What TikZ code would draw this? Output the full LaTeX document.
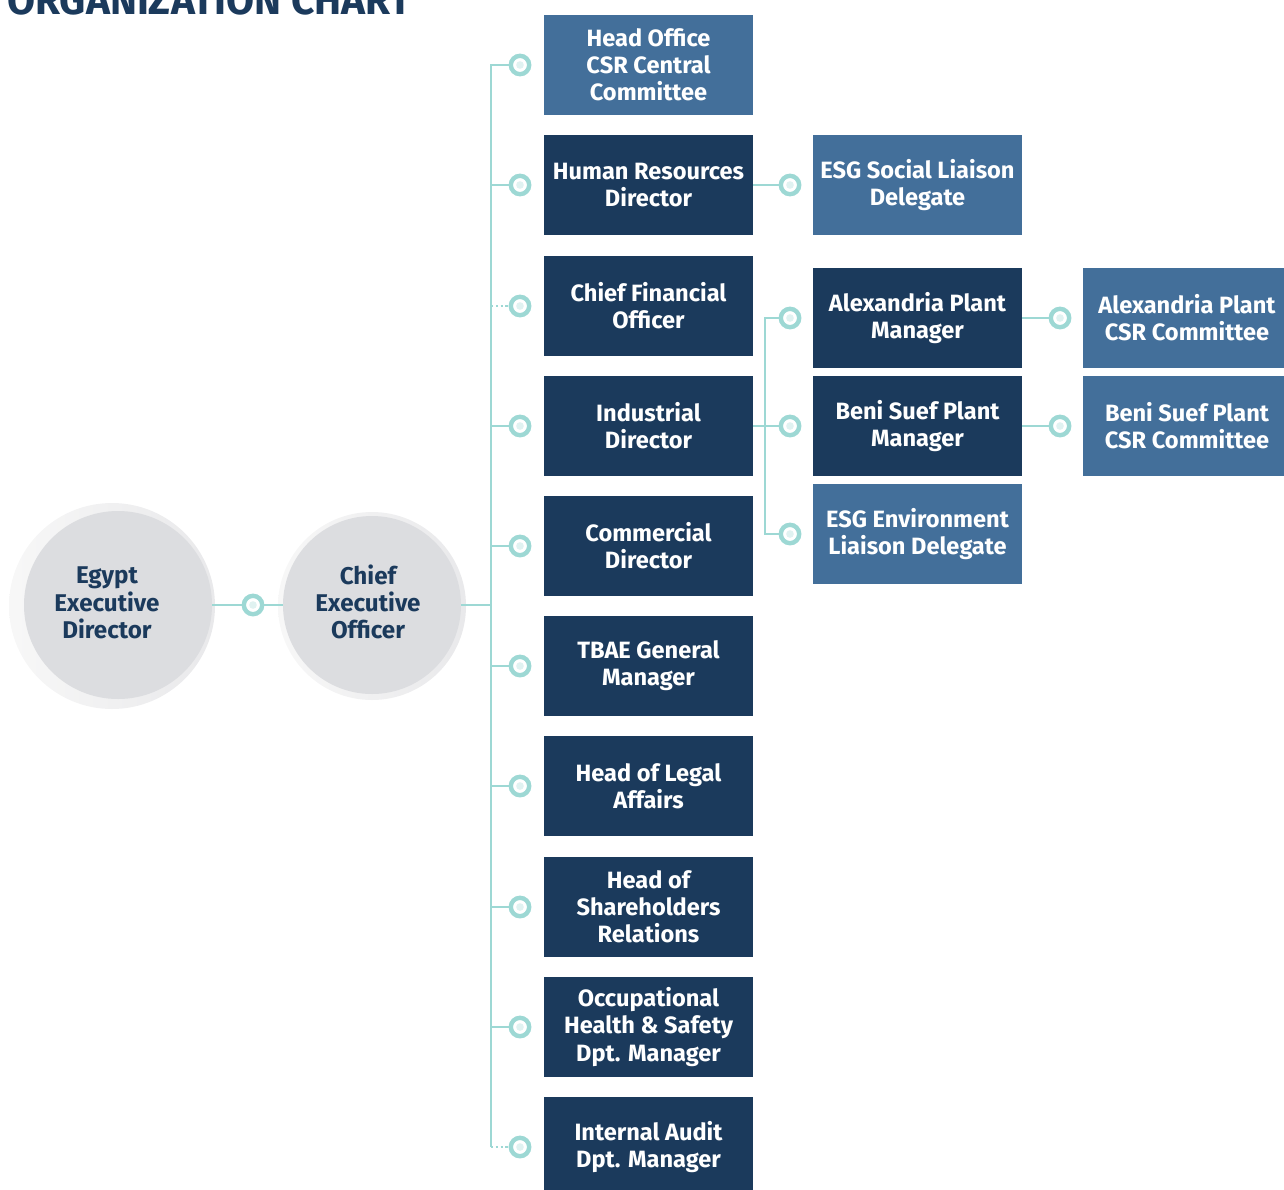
\documentclass[tikz,border=0pt]{standalone}
\usepackage{fontspec}
\setmainfont{Fira Sans}
\definecolor{navy}{HTML}{1B3A5C}
\definecolor{steel}{HTML}{436F9A}
\definecolor{teal}{HTML}{9DD8D4}
\definecolor{pale}{HTML}{E0F2F1}
\definecolor{disc}{HTML}{DCDDE0}
\definecolor{halo}{HTML}{E9E9EB}

\tikzset{
	dark/.style={fill=navy, text=white, minimum width=104.5pt, minimum height=50pt,
		align=center, inner sep=0pt, font=\bfseries\fontsize{11.8}{13.6}\selectfont},
	light/.style={dark, fill=steel},
	dot/.style={circle, draw=teal, fill=white, line width=2.2pt, minimum size=9.2pt, inner sep=0pt,
		path picture={\fill[pale] (path picture bounding box.center) circle (1.9pt);}},
	link/.style={draw=teal, line width=1pt},
	dotlink/.style={draw=teal, line width=0.8pt, dash pattern=on 1.2pt off 1.2pt},
	head/.style={circle, fill=disc, inner sep=0pt},
	headtext/.style={text=navy, align=center, inner sep=0pt,
		font=\bfseries\fontsize{12.1}{13.6}\selectfont},
}

\begin{document}
\begin{tikzpicture}[x=0.5pt, y=-0.5pt]
	\useasboundingbox (0,0) rectangle (1284,1189);
	\clip (0,0) rectangle (1284,1189);
	\node[anchor=base west, text=navy, inner sep=0pt, font=\bfseries\fontsize{20.3}{22}\selectfont] (title) at (7,14) {ORGANIZATION CHART};

	% the two round heads
	\shade[left color=white!97!black, right color=halo] (112,606) circle (103);
	\node[head, minimum size=94pt] (eed) at (118,605) {};
	\node[headtext] (eedtext) at (107,603) {Egypt\\Executive\\Director};
	\shade[left color=white!97!black, right color=halo] (372,606) circle (94);
	\node[head, minimum size=89pt] (ceo) at (372,605) {};
	\node[headtext] (ceotext) at (368,602) {Chief\\Executive\\Officer};
	\node[dot] (m0) at (253,605) {};

	% first column
	\node[light] (office) at (648.5,65) {Head Office\\CSR Central\\Committee};
	\node[dark] (hr) at (648.5,185) {Human Resources\\Director};
	\node[dark] (cfo) at (648.5,306) {Chief Financial\\Officer};
	\node[dark] (ind) at (648.5,426) {Industrial\\Director};
	\node[dark] (com) at (648.5,546) {Commercial\\Director};
	\node[dark] (tbae) at (648.5,666) {TBAE General\\Manager};
	\node[dark] (legal) at (648.5,786) {Head of Legal\\Affairs};
	\node[dark] (share) at (648.5,907) {Head of\\Shareholders\\Relations};
	\node[dark] (ohs) at (648.5,1027) {Occupational\\Health \& Safety\\Dpt. Manager};
	\node[dark] (audit) at (648.5,1147) {Internal Audit\\Dpt. Manager};

	% second column
	\node[light] (esgsoc) at (917.5,185) {ESG Social Liaison\\Delegate};
	\node[dark] (alex) at (917.5,318) {Alexandria Plant\\Manager};
	\node[dark] (beni) at (917.5,426) {Beni Suef Plant\\Manager};
	\node[light] (esgenv) at (917.5,534) {ESG Environment\\Liaison Delegate};

	% third column
	\node[light] (alexcsr) at (1187,318) {Alexandria Plant\\CSR Committee};
	\node[light] (benicsr) at (1187,426) {Beni Suef Plant\\CSR Committee};

	% markers
	\node[dot] (m1) at (520,65) {};
	\node[dot] (m2) at (520,185) {};
	\node[dot] (m3) at (520,306) {};
	\node[dot] (m4) at (520,426) {};
	\node[dot] (m5) at (520,546) {};
	\node[dot] (m6) at (520,666) {};
	\node[dot] (m7) at (520,786) {};
	\node[dot] (m8) at (520,907) {};
	\node[dot] (m9) at (520,1027) {};
	\node[dot] (m10) at (520,1147) {};
	\node[dot] (n1) at (790,185) {};
	\node[dot] (n2) at (790,318) {};
	\node[dot] (n3) at (790,426) {};
	\node[dot] (n4) at (790,534) {};
	\node[dot] (p1) at (1060,318) {};
	\node[dot] (p2) at (1060,426) {};

	\coordinate (t0) at (491,605);
	\coordinate (ttop) at (491,65);
	\coordinate (tbot) at (491,1147);
	\coordinate (u1) at (765,318);
	\coordinate (u3) at (765,534);

	\draw [link] (eed) -- (m0);
	\draw [link] (m0) -- (ceo);
	\draw [link] (ceo) -- (t0);
	\draw [link] (m1) -- (ttop) -- (tbot);
	\draw [link] (491,185) -- (m2);
	\draw [dotlink] (491,306) -- (m3);
	\draw [link] (491,426) -- (m4);
	\draw [link] (491,546) -- (m5);
	\draw [link] (491,666) -- (m6);
	\draw [link] (491,786) -- (m7);
	\draw [link] (491,907) -- (m8);
	\draw [link] (491,1027) -- (m9);
	\draw [dotlink] (tbot) -- (m10);

	\draw [link] (hr) -- (n1);
	\draw [link] (ind) -- (n3);
	\draw [link] (n2) -- (u1) -- (u3) -- (n4);
	\draw [link] (alex) -- (p1);
	\draw [link] (beni) -- (p2);
\end{tikzpicture}
\end{document}
